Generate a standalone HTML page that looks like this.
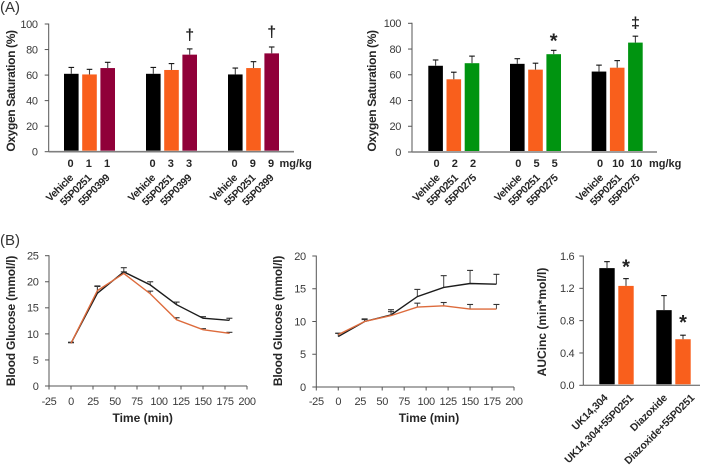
<!DOCTYPE html>
<html lang="en">
<head>
<meta charset="utf-8">
<title>Oxygen saturation and blood glucose charts</title>
<style>
html,body{margin:0;padding:0;background:#fff;width:709px;height:465px;overflow:hidden}
svg{display:block;filter:blur(.35px)}
text{font-family:"Liberation Sans",sans-serif;fill:#2b2b2b}
.tick{font-size:11px;letter-spacing:-.35px;fill:#3a3a3a}
.bold{font-size:11px;font-weight:bold;fill:#262626}
.cat{font-size:10.5px;font-weight:bold;letter-spacing:-.4px;fill:#262626}
.cat-wide{font-size:10.5px;font-weight:bold;letter-spacing:-.2px;fill:#262626}
.title{font-size:12px;letter-spacing:-.35px;font-weight:bold;fill:#262626;text-anchor:middle}
.title-b{font-size:12px;letter-spacing:-.2px;font-weight:bold;fill:#262626;text-anchor:middle}
.panel{font-size:15px;fill:#333}
.mark{font-weight:bold;fill:#222;text-anchor:middle}
</style>
</head>
<body>
<svg id="figure" width="709" height="465" viewBox="0 0 709 465" xmlns="http://www.w3.org/2000/svg">
  <text class="panel" x="0" y="12">(A)</text>
  <text class="panel" x="0" y="245">(B)</text>
  <text class="title" transform="translate(15,91) rotate(-90)">Oxygen Saturation (%)</text>
  <text class="title" transform="translate(376,91) rotate(-90)">Oxygen Saturation (%)</text>
  <text class="title-b" transform="translate(15,321) rotate(-90)">Blood Glucose (mmol/l)</text>
  <text class="title-b" transform="translate(282,321) rotate(-90)">Blood Glucose (mmol/l)</text>
  <text class="title-b" style="letter-spacing:0" transform="translate(546,322) rotate(-90)">AUCinc (min*mol/l)</text>
  <text class="title-b" style="letter-spacing:0" x="142.7" y="422">Time (min)</text>
  <text class="title-b" style="letter-spacing:0" x="429" y="422">Time (min)</text>
  <text class="bold" x="279.5" y="167">mg/kg</text>
  <text class="bold" x="649" y="167">mg/kg</text>
</svg>
<script>
// ---------- Data: panel A, left ----------
const a1Values = [61, 60.5, 65.5, 61, 64, 76, 60.5, 65.5, 77];
const a1Errors = [5, 4, 4.5, 5, 5, 4.5, 5, 5, 5];
const a1Doses = ['0', '1', '1', '0', '3', '3', '0', '9', '9'];
const a1Names = ['Vehicle', '55P0251', '55P0399', 'Vehicle', '55P0251', '55P0399', 'Vehicle', '55P0251', '55P0399'];
const a1Marks = ['', '', '', '', '', '†', '', '', '†'];
// ---------- Data: panel A, right ----------
const a2Values = [67, 56.5, 69, 68.5, 64, 76, 62.5, 65.5, 85];
const a2Errors = [4.5, 5.5, 5.5, 4, 5, 3, 5, 5.5, 5];
const a2Doses = ['0', '2', '2', '0', '5', '5', '0', '10', '10'];
const a2Names = ['Vehicle', '55P0251', '55P0275', 'Vehicle', '55P0251', '55P0275', 'Vehicle', '55P0251', '55P0275'];
const a2Marks = ['', '', '', '', '', '*', '', '', '‡'];
const oxygenTicks = [0, 20, 40, 60, 80, 100];
// ---------- Data: panel B, glucose curves ----------
const timePoints = [0, 30, 60, 90, 120, 150, 180];
const timeTicks = [-25, 0, 25, 50, 75, 100, 125, 150, 175, 200];
const b1Black = [8.2, 17.8, 21.9, 19.4, 15.6, 13, 12.6];
const b1BlackErr = [0.2, 1.3, 0.8, 0.6, 0.5, 0.3, 0.4];
const b1Orange = [8.2, 18.3, 21.6, 17.7, 12.7, 10.8, 10.1];
const b1OrangeErr = [0.1, 0.9, 0.3, 0.5, 0.4, 0.2, 0.2];
const b1Ticks = [0, 5, 10, 15, 20, 25];
const b2Black = [7.7, 10, 11, 13.8, 15.2, 15.8, 15.7];
const b2BlackErr = [0.5, 0.4, 0.8, 1.1, 1.8, 2, 1.5];
const b2Orange = [8, 10, 10.9, 12.2, 12.4, 11.9, 11.9];
const b2OrangeErr = [0.2, 0.3, 0.6, 0.6, 0.5, 0.7, 0.7];
const b2Ticks = [0, 5, 10, 15, 20];
// ---------- Data: panel B, AUC ----------
const aucValues = [1.45, 1.23, 0.93, 0.57];
const aucErrors = [0.08, 0.09, 0.18, 0.05];
const aucNames = ['UK14,304', 'UK14,304+55P0251', 'Diazoxide', 'Diazoxide+55P0251'];
const aucMarks = ['', '*', '', '*'];
const aucTicks = ['0.0', '0.4', '0.8', '1.2', '1.6'];

const NS = 'http://www.w3.org/2000/svg';
const svg = document.getElementById('figure');
const BLACK = '#000000', ORANGE = '#f95f1c', CRIMSON = '#900039', GREEN = '#009410';

function make(tag, attrs) {
  const el = document.createElementNS(NS, tag);
  for (const k in attrs) el.setAttribute(k, attrs[k]);
  svg.appendChild(el);
  return el;
}
function line(x1, y1, x2, y2, stroke, width) {
  const el = make('line', {x1: x1, y1: y1, x2: x2, y2: y2, stroke: stroke, 'stroke-width': width});
  
  
  return el;
}
function label(x, y, str, cls, anchor) {
  const el = make('text', {x: x, y: y, class: cls, 'text-anchor': anchor});
  el.textContent = str;
  
  
  return el;
}
function rotatedLabel(x, y, str, cls) {
  const el = make('text', {class: cls, 'text-anchor': 'end', transform: 'translate(' + x + ',' + y + ') rotate(-45)'});
  el.textContent = str;
  
  
  return el;
}
function yAxis(x, yTop, yBottom, ticks, maxV, labelRight) {
  const gray = '#555';
  line(x, yTop - 0.5, x, yBottom, gray, 1);
  ticks.forEach(function (t) {
    const y = yBottom - (parseFloat(t) / maxV) * (yBottom - yTop);
    line(x - 4, y, x, y, gray, 1);
    label(labelRight, y + 3.9, String(t), 'tick', 'end');
  });
}
function bar(x, w, base, top, errTop, color) {
  const r = make('rect', {x: x, y: top, width: w, height: base - top, fill: color});
  
  
  const cx = x + w / 2;
  const s = line(cx, errTop, cx, top, '#444', 1.1);
  
  const c = line(cx - 2.8, errTop, cx + 2.8, errTop, '#111', 1.1);
  
}
function mark(x, y, str, size) {
  const el = make('text', {x: x, y: y, class: 'mark', style: 'font-size:' + size + 'px'});
  el.textContent = str;
  
  
}

function oxygenPanel(opt) {
  const yOf = function (v) { return opt.base - (v / 100) * (opt.base - opt.top); };
  const xOf = function (i) { return opt.x0 + (i % 3) * opt.step + Math.floor(i / 3) * opt.groupStep; };
  opt.values.forEach(function (v, i) {
    const x = xOf(i);
    bar(x, 14.6, opt.base - 1, yOf(v), yOf(v + opt.errors[i]), opt.colors[i % 3]);
    label(x + 7.3 + opt.doseShift, 167, opt.doses[i], 'bold', 'middle');
    rotatedLabel(x + 7.3 + opt.nameShift, 178.5, opt.names[i], 'cat');
    if (opt.marks[i]) {
      const isStar = opt.marks[i] === '*';
      mark(x + 7.3, yOf(v + opt.errors[i]) - (isStar ? 3 : opt.markGap[i]), opt.marks[i], isStar ? 20 : 16);
    }
  });
  yAxis(opt.axisX, opt.top, opt.base, oxygenTicks, 100, opt.axisX - 11);
  line(opt.axisX, opt.base, opt.xEnd, opt.base, '#7f7f7f', 1.6);
}

oxygenPanel({values: a1Values, errors: a1Errors, doses: a1Doses, names: a1Names, marks: a1Marks,
  markGap: {5: 9, 8: 10},
  colors: [BLACK, ORANGE, CRIMSON], x0: 64, step: 18.2, groupStep: 82, top: 24, base: 151.7,
  axisX: 48.7, xEnd: 294, doseShift: -0.7, nameShift: 2.5});
oxygenPanel({values: a2Values, errors: a2Errors, doses: a2Doses, names: a2Names, marks: a2Marks,
  markGap: {8: 8},
  colors: [BLACK, ORANGE, GREEN], x0: 428.3, step: 18.2, groupStep: 81.7, top: 23.3, base: 152,
  axisX: 412, xEnd: 657, doseShift: 1, nameShift: 4.8});

function curvePanel(opt) {
  const xOf = function (t) { return opt.axisX + ((t + 25) / 225) * (opt.xEnd - opt.axisX); };
  const yOf = function (v) { return opt.base - (v / opt.maxV) * (opt.base - opt.top); };
  function series(vals, errs, color, name) {
    vals.forEach(function (v, i) {
      const x = xOf(timePoints[i]);
      const et = yOf(v + errs[i]);
      line(x, et, x, yOf(v), '#444', 1);
      line(x - 3, et, x + 3, et, '#333', 1.1);
    });
    const pts = vals.map(function (v, i) { return xOf(timePoints[i]) + ',' + yOf(v); }).join(' ');
    const p = make('polyline', {points: pts, fill: 'none', stroke: color, 'stroke-width': 1.4});
    
    
  }
  series(opt.black, opt.blackErr, '#1c1c1c', 'black-series-line');
  series(opt.orange, opt.orangeErr, '#dd6b3c', 'orange-series-line');
  yAxis(opt.axisX, opt.top, opt.base, opt.ticks, opt.maxV, opt.axisX - 10.5);
  line(opt.axisX, opt.base, opt.xEnd, opt.base, '#555', 1);
  timeTicks.forEach(function (t) {
    line(xOf(t), opt.base, xOf(t), opt.base + 3.5, '#555', 1);
    label(xOf(t), 405, String(t), 'tick', 'middle');
  });
}
curvePanel({black: b1Black, blackErr: b1BlackErr, orange: b1Orange, orangeErr: b1OrangeErr, ticks: b1Ticks,
  maxV: 25, axisX: 49, xEnd: 247, top: 255.7, base: 386});
curvePanel({black: b2Black, blackErr: b2BlackErr, orange: b2Orange, orangeErr: b2OrangeErr, ticks: b2Ticks,
  maxV: 20, axisX: 316.3, xEnd: 514, top: 256, base: 387});

(function aucPanel() {
  const axisX = 583.3, top = 256, base = 385.3, maxV = 1.6;
  const labelShift = [1.3, 8, 3.7, 12];
  const markGap = [0, -5, 0, -6];
  const yOf = function (v) { return base - (v / maxV) * (base - top); };
  const xOf = function (i) { return 599.3 + (i % 2) * 19 + Math.floor(i / 2) * 57; };
  aucValues.forEach(function (v, i) {
    const x = xOf(i);
    bar(x, 15.4, base - 1, yOf(v), yOf(v + aucErrors[i]), i % 2 ? ORANGE : BLACK);
    rotatedLabel(x + 7.7 + labelShift[i], 398.5, aucNames[i], 'cat-wide');
    if (aucMarks[i]) mark(x + 7.7, yOf(v + aucErrors[i]) + markGap[i], aucMarks[i], 20);
  });
  yAxis(axisX, top, base, aucTicks, maxV, axisX - 9);
  line(axisX, base, 700, base, '#555', 1);
})();
</script>
</body>
</html>
